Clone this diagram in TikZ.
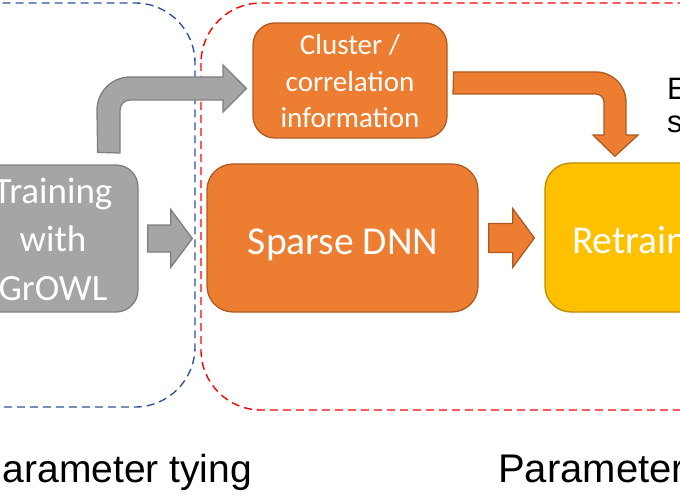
\documentclass[tikz,border=0pt]{standalone}
\usepackage{fontspec}
\setmainfont{Carlito}
\newfontfamily\arialf{Liberation Sans}
\usetikzlibrary{calc}
\definecolor{orfill}{HTML}{ED7D31}
\definecolor{ordraw}{HTML}{AE5A21}
\definecolor{grfill}{HTML}{A5A5A5}
\definecolor{grdraw}{HTML}{7F7F7F}
\definecolor{yefill}{HTML}{FFC000}
\definecolor{yedraw}{HTML}{BC8C00}
\definecolor{dashblue}{HTML}{2E5597}
\definecolor{dashred}{HTML}{FF0000}
\begin{document}
\begin{tikzpicture}[x=1pt,y=-1pt,
  boxbase/.style={draw, line width=1.3pt, rounded corners=22pt, inner sep=0pt},
  graybox/.style={boxbase, fill=grfill, draw=grdraw},
  orbox/.style={boxbase, fill=orfill, draw=ordraw},
  yelbox/.style={boxbase, fill=yefill, draw=yedraw},
  grayarrow/.style={fill=grfill, draw=grdraw, line width=1.3pt, line join=miter},
  orarrow/.style={fill=orfill, draw=ordraw, line width=1.3pt, line join=miter},
  groupline/.style={line width=1.4pt, dash pattern=on 8pt off 5pt, rounded corners=60pt},
  boxtext/.style={text=white, inner sep=0pt, align=center},
  labeltext/.style={text=black, inner sep=0pt, font=\arialf}
]
\useasboundingbox (0,0) rectangle (680,500);
\clip (0,0) rectangle (680,500);

% group outlines
\draw[groupline, draw=dashblue] (-120,3) rectangle (195,407);
\draw[groupline, draw=dashred] (201,3) rectangle (820,410);

% boxes
\node[graybox, minimum width=196pt, minimum height=147pt] (gray) at (40,238.5) {};
\node[orbox, minimum width=194pt, minimum height=115pt] (cluster) at (350,80.5) {};
\node[orbox, rounded corners=26pt, minimum width=271pt, minimum height=148pt] (sparse) at (342.5,238) {};
\node[yelbox, rounded corners=26pt, minimum width=280pt, minimum height=149pt] (retrain) at (685,237.5) {};

% box texts (anchor base = baseline of the last line)
\node[boxtext, anchor=base, font=\fontsize{37}{48.5}\selectfont] (graytext) at (53,300) {Training\\with\\GrOWL};
\node[boxtext, anchor=base, font=\fontsize{29}{36.5}\selectfont] (clustertext) at (350,128) {Cluster /\\correlation\\information};
\node[boxtext, anchor=base, font=\fontsize{39.5}{46}\selectfont] (sparsetext) at (343,254) {Sparse DNN};
\node[boxtext, anchor=base west, font=\fontsize{39.5}{46}\selectfont] (retraintext) at (572,253) {Retraining};

% straight block arrows
\coordinate (ga1) at ($(gray.east)+(9,0)$);
\coordinate (ga2) at ($(sparse.west |- ga1)+(-14,0)$);
\draw[grayarrow] ($(ga1)+(0,-13.5)$) -- ($(ga1)+(23,-13.5)$) -- ($(ga1)+(23,-29)$) -- (ga2)
  -- ($(ga1)+(23,29)$) -- ($(ga1)+(23,13.5)$) -- ($(ga1)+(0,13.5)$) -- cycle;

\coordinate (oa1) at ($(sparse.east)+(10,0)$);
\coordinate (oa2) at ($(retrain.west |- oa1)+(-10,0)$);
\draw[orarrow] ($(oa1)+(0,-14.5)$) -- ($(oa1)+(24,-14.5)$) -- ($(oa1)+(24,-29.5)$) -- (oa2)
  -- ($(oa1)+(24,29.5)$) -- ($(oa1)+(24,14.5)$) -- ($(oa1)+(0,14.5)$) -- cycle;

% bent gray arrow: from training box up and right to cluster box
\coordinate (gb1) at ($(gray.north east)+(-41,-12)$);
\coordinate (gb2) at ($(cluster.west)+(-6,8)$);
\draw[grayarrow] (gb1) -- (97,110) .. controls (97,91.8) and (111.8,77) .. (130,77)
  -- (223,77) -- (223,65) -- (gb2) -- (223,112) -- (223,100) -- (130,100)
  .. controls (124.5,100) and (120,104.5) .. (120,110) -- (120,153) -- cycle;

% bent orange arrow: from cluster box right and down to retraining box
\coordinate (ob1) at ($(cluster.east)+(6,-8.5)$);
\coordinate (ob2) at ($(retrain.north west)+(70.5,-6)$);
\draw[orarrow] (ob1) -- (596,72) .. controls (612.6,72) and (626,85.4) .. (626,102)
  -- (626,135) -- (638,135) -- (ob2) -- (593,135) -- (604,135) -- (604,102)
  .. controls (604,97.6) and (600.4,94) .. (596,94) -- (453,94) -- cycle;

% labels
\node[labeltext, anchor=base west, font=\arialf\fontsize{31}{34}\selectfont] (elabel) at (667,100) {E};
\node[labeltext, anchor=base west, font=\arialf\fontsize{31}{34}\selectfont] (slabel) at (667,133) {s};
\node[labeltext, anchor=base west, font=\arialf\fontsize{39}{46}\selectfont] (leftlabel) at (-23.5,482) {Parameter tying};
\node[labeltext, anchor=base west, font=\arialf\fontsize{40}{46}\selectfont] (rightlabel) at (498,482) {Parameter};
\end{tikzpicture}
\end{document}
